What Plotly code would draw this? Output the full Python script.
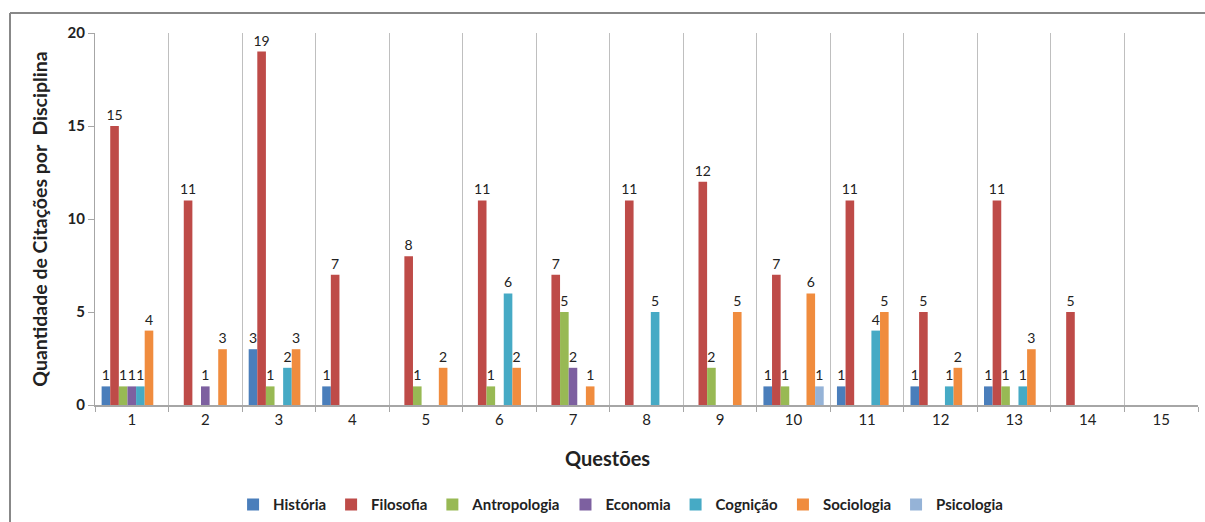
import plotly.graph_objects as go

questoes = [str(i) for i in range(1, 16)]
series_names = ["História", "Filosofia", "Antropologia", "Economia", "Cognição", "Sociologia", "Psicologia"]
historia     = [1, None, 3, 1, None, None, None, None, None, 1, 1, 1, 1, None, None]
filosofia    = [15, 11, 19, 7, 8, 11, 7, 11, 12, 7, 11, 5, 11, 5, None]
antropologia = [1, None, 1, None, 1, 1, 5, None, 2, 1, None, None, 1, None, None]
economia     = [1, 1, None, None, None, None, 2, None, None, None, None, None, None, None, None]
cognicao     = [1, None, 2, None, None, 6, None, 5, None, None, 4, 1, 1, None, None]
sociologia   = [4, 3, 3, None, 2, 2, 1, None, 5, 6, 5, 2, 3, None, None]
psicologia   = [None, None, None, None, None, None, None, None, None, 1, None, None, None, None, None]
colors = ["#4A7EBB", "#BE4B48", "#98B954", "#7D60A0", "#46AAC5", "#F08C3E", "#95B3D7"]
y_ticks = [0, 5, 10, 15, 20]

all_series = [historia, filosofia, antropologia, economia, cognicao, sociologia, psicologia]
FONT = "Lato, 'Open Sans', sans-serif"

fig = go.Figure()
for name, vals, col in zip(series_names, all_series, colors):
    fig.add_trace(go.Bar(
        x=questoes, y=vals, name=name,
        marker=dict(color=col, line=dict(width=0)),
        text=[str(v) if v else "" for v in vals],
        textposition="outside", cliponaxis=False,
        textfont=dict(size=14, color="#222", family=FONT),
        textangle=0,
    ))

fig.update_layout(
    barmode="group", bargap=0.18, bargroupgap=0,
    width=1205, height=522,
    margin=dict(l=95, r=7, t=33, b=117, autoexpand=False),
    paper_bgcolor="white", plot_bgcolor="white",
    font=dict(family=FONT, size=13, color="#222"),
    uniformtext=dict(mode="show", minsize=14),
    legend=dict(orientation="h", xref="container", yref="container",
                x=0.515, xanchor="center", y=0.033, yanchor="middle",
                font=dict(size=15, color="#222", family=FONT, weight="bold"),
                itemwidth=30, tracegroupgap=0),
    showlegend=True,
    annotations=[dict(text="Questões", xref="paper", yref="paper",
                      x=(607-95)/1103, y=(405-458)/372, xanchor="center", yanchor="middle",
                      showarrow=False, font=dict(size=20, color="#222", weight="bold"))],
)
fig.update_xaxes(
    type="category", tickson="boundaries", showgrid=True, gridcolor="#BFBFBF", gridwidth=1,
    ticks="outside", ticklen=5, tickcolor="#A6A6A6",
    showline=True, linecolor="#A6A6A6", linewidth=1.5,
    tickfont=dict(size=15, color="#222"), automargin=False,
)
fig.update_yaxes(
    range=[0, 20], tickvals=y_ticks, showgrid=False, zeroline=False,
    ticks="outside", ticklen=6, tickcolor="#A6A6A6",
    showline=True, linecolor="#A6A6A6", linewidth=1,
    tickfont=dict(size=15, color="#222", weight="bold"), automargin=False,
    title=dict(text="Quantidade de Citações por  Disciplina",
               font=dict(size=19.5, color="#222", weight="bold"), standoff=14),
)
# outer chart frame (top and left edges visible)
fig.add_shape(type="line", xref="paper", yref="paper",
              x0=-85/1103, x1=1.01, y0=1+20/372, y1=1+20/372,
              line=dict(color="#888888", width=2))
fig.add_shape(type="line", xref="paper", yref="paper",
              x0=-85/1103, x1=-85/1103, y0=1+20/372, y1=-117/372 - 0.01,
              line=dict(color="#888888", width=2))

fig.write_html("out.html", config={"displayModeBar": False},
               post_script="document.body.style.margin='0';document.body.style.overflow='hidden';")
